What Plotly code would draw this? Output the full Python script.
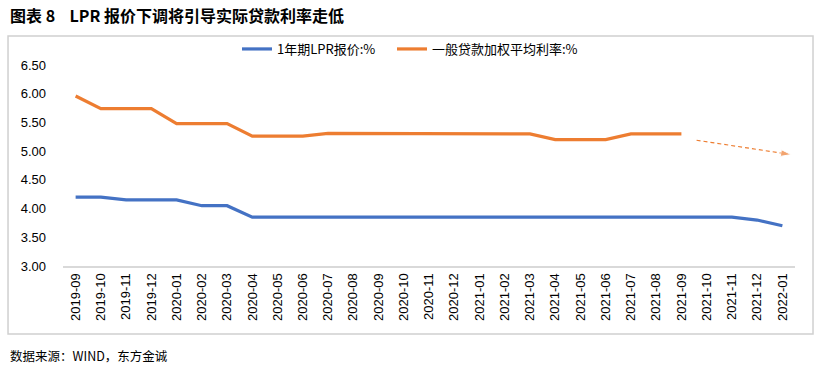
import plotly.graph_objects as go

months = ["2019-09", "2019-10", "2019-11", "2019-12", "2020-01", "2020-02", "2020-03",
          "2020-04", "2020-05", "2020-06", "2020-07", "2020-08", "2020-09", "2020-10",
          "2020-11", "2020-12", "2021-01", "2021-02", "2021-03", "2021-04", "2021-05",
          "2021-06", "2021-07", "2021-08", "2021-09", "2021-10", "2021-11", "2021-12",
          "2022-01"]
lpr_1y = [4.20, 4.20, 4.15, 4.15, 4.15, 4.05, 4.05,
          3.85, 3.85, 3.85, 3.85, 3.85, 3.85, 3.85,
          3.85, 3.85, 3.85, 3.85, 3.85, 3.85, 3.85,
          3.85, 3.85, 3.85, 3.85, 3.85, 3.85, 3.80,
          3.70]
loan_rate = [5.96, 5.74, 5.74, 5.74, 5.48, 5.48, 5.48,
             5.26, 5.26, 5.26, 5.31, 5.31, 5.31, 5.30,
             5.30, 5.30, 5.30, 5.30, 5.30, 5.20, 5.20,
             5.20, 5.30, 5.30, 5.30]
# dashed trend arrow (x in category index units, y in %)
trend_x = [24.6, 28.35]
trend_y = [5.19, 4.94]

y_ticks = [3.00, 3.50, 4.00, 4.50, 5.00, 5.50, 6.00, 6.50]

BLUE = "#4472C4"
ORANGE = "#ED7D31"
FONT = "Liberation Sans, Noto Sans CJK SC"
NB = "\u00a0"

idx = list(range(len(months)))

fig = go.Figure()
fig.add_trace(go.Scatter(x=idx, y=lpr_1y, mode="lines", name="1年期LPR报价:%" + NB * 4,
                         line=dict(color=BLUE, width=3.2)))
fig.add_trace(go.Scatter(x=idx[:len(loan_rate)], y=loan_rate, mode="lines",
                         name="一般贷款加权平均利率:%",
                         line=dict(color=ORANGE, width=3.2)))
fig.add_trace(go.Scatter(x=trend_x, y=trend_y, mode="lines+markers", showlegend=False,
                         line=dict(color=ORANGE, width=1.2, dash="4px,3px"),
                         marker=dict(symbol="arrow", size=[0, 11], angleref="previous",
                                     color=ORANGE),
                         cliponaxis=False, hoverinfo="skip"))

fig.update_layout(
    width=821, height=368,
    margin=dict(l=63, r=26, t=36, b=102),
    paper_bgcolor="white", plot_bgcolor="white",
    font=dict(family=FONT, color="#000000", size=13),
    showlegend=True,
    legend=dict(orientation="h", x=0.2377, y=0.9435, xanchor="left", yanchor="middle",
                font=dict(family="Noto Sans CJK SC", size=13),
                tracegroupgap=0, bgcolor="rgba(0,0,0,0)"),
)
fig.update_xaxes(range=[-0.5, len(months) - 0.5], tickmode="array", tickvals=idx,
                 ticktext=months, tickangle=-90, showgrid=False, zeroline=False,
                 showline=True, linecolor="#d9d9d9", linewidth=2, ticks="",
                 tickfont=dict(family="Liberation Sans", size=13))
fig.update_yaxes(range=[3.0, 7.005], tickmode="array", tickvals=y_ticks,
                 ticktext=[f"{v:.2f}" for v in y_ticks], showgrid=False,
                 zeroline=False, showline=False, ticks="", ticklabelstandoff=16,
                 tickfont=dict(family="Liberation Sans", size=13))

# outer chart border
fig.add_shape(type="rect", xref="paper", yref="paper",
              x0=-0.0751, x1=1.0246, y0=-0.2957, y1=1.0,
              line=dict(color="#d0d0d0", width=1.5), fillcolor="rgba(0,0,0,0)")

fig.add_annotation(text="<b>图表 8" + NB * 4 + "LPR 报价下调将引导实际贷款利率走低</b>",
                   xref="paper", yref="paper", x=-0.0751, y=1.093,
                   xanchor="left", yanchor="middle", showarrow=False,
                   font=dict(family="Noto Sans CJK SC", size=16, color="#000000"))
fig.add_annotation(text="数据来源：WIND，东方金诚",
                   xref="paper", yref="paper", x=-0.0751, y=-0.387,
                   xanchor="left", yanchor="middle", showarrow=False,
                   font=dict(family="Noto Sans CJK SC", size=12.5, color="#000000"))

fig.write_html("out.html", config={"displayModeBar": False},
               post_script="document.body.style.margin='0';")
